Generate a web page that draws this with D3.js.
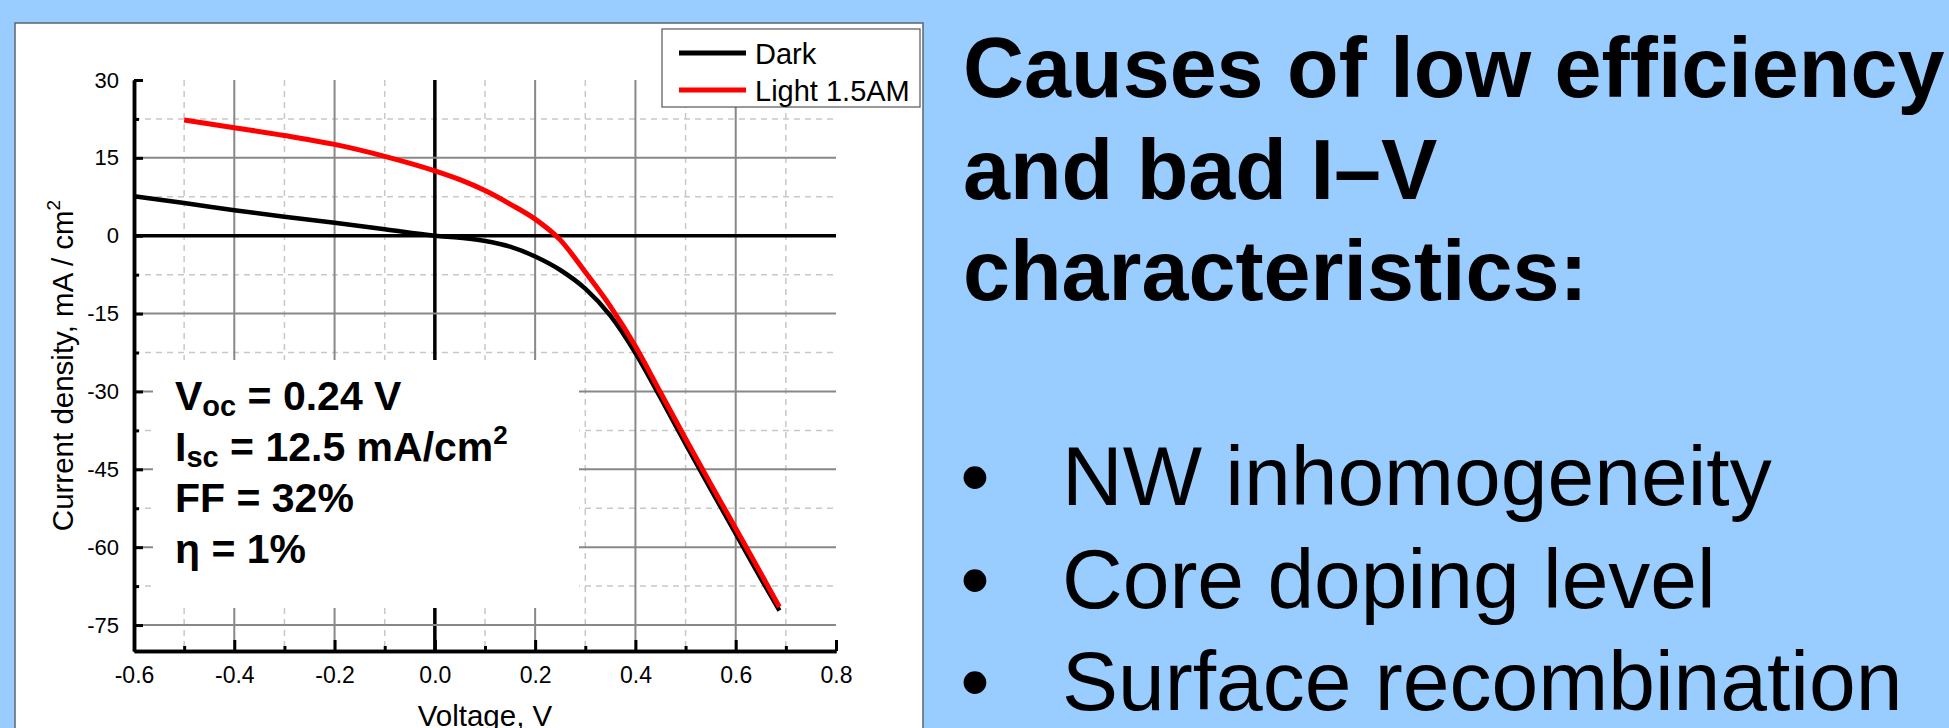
<!DOCTYPE html>
<html>
<head>
<meta charset="utf-8">
<script src="https://cdn.jsdelivr.net/npm/d3@7"></script>
<style>
html, body { margin: 0; padding: 0; background: #99ccff; }
svg { display: block; font-family: "Liberation Sans", Arial, sans-serif; }
</style>
</head>
<body>
<svg width="1949" height="728"></svg>
<script>
const svg = d3.select('svg')

// I-V curves: V in volts, J in mA/cm2
const darkV = [-0.6, -0.5, -0.4, -0.3, -0.2, -0.1, 0, 0.05, 0.1, 0.15, 0.2, 0.25, 0.3, 0.35, 0.4, 0.45, 0.5, 0.55, 0.6, 0.65, 0.687]
const darkJ = [7.6, 6.3, 4.9, 3.65, 2.5, 1.25, 0, -0.4, -1.0, -2.1, -4.0, -6.6, -10.2, -15.4, -22.6, -31.2, -40.1, -48.8, -57.4, -66.0, -72.2]
const lightV = [-0.5, -0.4, -0.3, -0.2, -0.1, 0, 0.05, 0.1, 0.15, 0.2, 0.25, 0.3, 0.35, 0.4, 0.45, 0.5, 0.55, 0.6, 0.65, 0.687]
const lightJ = [22.3, 20.8, 19.3, 17.6, 15.3, 12.5, 10.8, 8.7, 6.1, 3.2, -0.8, -7.0, -13.6, -21.3, -30.2, -39.1, -47.8, -56.4, -65.0, -71.5]

const seriesNames = ['Dark', 'Light 1.5AM']
const seriesColors = ['#000000', '#ff0000']

const xTicks = [-0.6, -0.4, -0.2, 0.0, 0.2, 0.4, 0.6, 0.8]
const xMinor = [-0.5, -0.3, -0.1, 0.1, 0.3, 0.5, 0.7]
const yTicks = [30, 15, 0, -15, -30, -45, -60, -75]
const yMinor = [22.5, 7.5, -7.5, -22.5, -37.5, -52.5, -67.5]

const xTitle = 'Voltage, V'
const yTitle = ['Current density, mA / cm', '2']

// [main, subscript, rest, superscript]
const statLines = [
    ['V', 'oc', ' = 0.24 V', ''],
    ['I', 'sc', ' = 12.5 mA/cm', '2'],
    ['FF = 32%', '', '', ''],
    ['η = 1%', '', '', '']
]

const titleLines = ['Causes of low efficiency', 'and bad I–V', 'characteristics:']
const causes = ['NW inhomogeneity', 'Core doping level', 'Surface recombination']

const x = d3.scaleLinear().domain([-0.6, 0.8]).range([134, 836])
const y = d3.scaleLinear().domain([-80, 30]).range([651, 80])

// white figure panel
svg.append('rect')
    .attr('x', 15).attr('y', 23)
    .attr('width', 908).attr('height', 720)
    .attr('fill', '#fff')
    .attr('stroke', '#5a6670')
    .attr('stroke-width', 1.5)

const grid = svg.append('g')

grid.selectAll('.vminor').data(xMinor).enter().append('line')
    .attr('x1', d => x(d)).attr('x2', d => x(d))
    .attr('y1', y(30)).attr('y2', y(-80))
    .attr('stroke', '#c8c8c8').attr('stroke-width', 1.5)
    .attr('stroke-dasharray', '6,5')

grid.selectAll('.hminor').data(yMinor).enter().append('line')
    .attr('x1', x(-0.6)).attr('x2', x(0.8))
    .attr('y1', d => y(d)).attr('y2', d => y(d))
    .attr('stroke', '#c8c8c8').attr('stroke-width', 1.5)
    .attr('stroke-dasharray', '6,5')

grid.selectAll('.vmajor').data(xTicks.filter(d => d > -0.6 && d < 0.8)).enter().append('line')
    .attr('x1', d => x(d)).attr('x2', d => x(d))
    .attr('y1', y(30)).attr('y2', y(-80))
    .attr('stroke', d => d === 0 ? '#000' : '#888')
    .attr('stroke-width', d => d === 0 ? 3.5 : 2)

grid.selectAll('.hmajor').data(yTicks.filter(d => d < 30)).enter().append('line')
    .attr('x1', x(-0.6)).attr('x2', x(0.8))
    .attr('y1', d => y(d)).attr('y2', d => y(d))
    .attr('stroke', d => d === 0 ? '#000' : '#888')
    .attr('stroke-width', d => d === 0 ? 3.5 : 2)

// box behind the cell parameters
svg.append('rect')
    .attr('x', 153).attr('y', 360)
    .attr('width', 426).attr('height', 248)
    .attr('fill', '#fff')

// axes, ticks pointing inwards
const styleAxis = g => {
    g.select('.domain').attr('stroke-width', 3.5)
    g.selectAll('.tick line').attr('stroke-width', 3)
    g.selectAll('text').attr('fill', '#000').attr('font-family', 'Liberation Sans, Arial, sans-serif')
}

svg.append('g')
    .attr('transform', `translate(0, ${y(-80)})`)
    .call(d3.axisBottom(x).tickValues(xMinor).tickFormat('').tickSizeInner(-5).tickSizeOuter(0))
    .call(styleAxis)

svg.append('g')
    .attr('transform', `translate(0, ${y(-80)})`)
    .call(d3.axisBottom(x).tickValues(xTicks).tickFormat(d => d.toFixed(1))
        .tickSizeInner(-11).tickSizeOuter(0).tickPadding(16))
    .call(styleAxis)
    .selectAll('text').attr('font-size', 23)

svg.append('g')
    .attr('transform', `translate(${x(-0.6)}, 0)`)
    .call(d3.axisLeft(y).tickValues(yMinor).tickFormat('').tickSizeInner(-5).tickSizeOuter(0))
    .call(styleAxis)

svg.append('g')
    .attr('transform', `translate(${x(-0.6)}, 0)`)
    .call(d3.axisLeft(y).tickValues(yTicks).tickFormat(d => String(d))
        .tickSizeInner(-9).tickSizeOuter(0).tickPadding(15))
    .call(styleAxis)
    .selectAll('text').attr('font-size', 22)

svg.append('text')
    .attr('x', (x(-0.6) + x(0.8)) / 2).attr('y', 726)
    .attr('text-anchor', 'middle')
    .attr('font-size', 29.5)
    .text(xTitle)

const yt = svg.append('text')
    .attr('transform', `translate(73, ${(y(30) + y(-80)) / 2}) rotate(-90)`)
    .attr('text-anchor', 'middle')
    .attr('font-size', 29.5)
yt.append('tspan').text(yTitle[0])
yt.append('tspan').attr('font-size', 19).attr('dy', -13).text(yTitle[1])

// curves
const line = d3.line()
    .x(d => x(d[0]))
    .y(d => y(d[1]))
    .curve(d3.curveMonotoneX)

const series = [
    d3.zip(darkV, darkJ),
    d3.zip(lightV, lightJ)
]

svg.selectAll('.curve').data(series).enter().append('path')
    .attr('d', line)
    .attr('fill', 'none')
    .attr('stroke', (d, i) => seriesColors[i])
    .attr('stroke-width', (d, i) => i === 0 ? 4.5 : 5)
    .attr('stroke-linejoin', 'round')

// legend
const legend = svg.append('g')
legend.append('rect')
    .attr('x', 662).attr('y', 29)
    .attr('width', 258).attr('height', 78)
    .attr('fill', '#fff')
    .attr('stroke', '#555').attr('stroke-width', 1.2)

const items = legend.selectAll('.item').data(seriesNames).enter().append('g')
    .attr('transform', (d, i) => `translate(0, ${53 + i * 37})`)
items.append('line')
    .attr('x1', 679).attr('x2', 746)
    .attr('stroke', (d, i) => seriesColors[i])
    .attr('stroke-width', 5)
items.append('text')
    .attr('x', 755).attr('y', 10.5)
    .attr('font-size', 29)
    .text(d => d)

// cell parameters
const stats = svg.append('g')
statLines.forEach((l, i) => {
    const t = stats.append('text')
        .attr('x', 175).attr('y', 410 + i * 51)
        .attr('font-size', 41).attr('font-weight', 'bold')
    t.append('tspan').text(l[0])
    if (l[1]) t.append('tspan').attr('font-size', 29).attr('dy', 6).text(l[1])
    if (l[2]) t.append('tspan').attr('dy', l[1] ? -6 : 0).text(l[2])
    if (l[3]) t.append('tspan').attr('font-size', 26).attr('dy', -17).text(l[3])
})

// slide text on the right
svg.append('g').selectAll('text').data(titleLines).enter().append('text')
    .attr('x', 963).attr('y', (d, i) => 97 + i * 101.7)
    .attr('font-size', 84.5).attr('font-weight', 'bold')
    .text(d => d)

const bl = svg.append('g').selectAll('g').data(causes).enter().append('g')
    .attr('transform', (d, i) => `translate(0, ${505 + i * 102.5})`)
bl.append('text')
    .attr('x', 975).attr('text-anchor', 'middle')
    .attr('font-size', 84)
    .text('•')
bl.append('text')
    .attr('x', 1062)
    .attr('font-size', 84)
    .text(d => d)
</script>
</body>
</html>
